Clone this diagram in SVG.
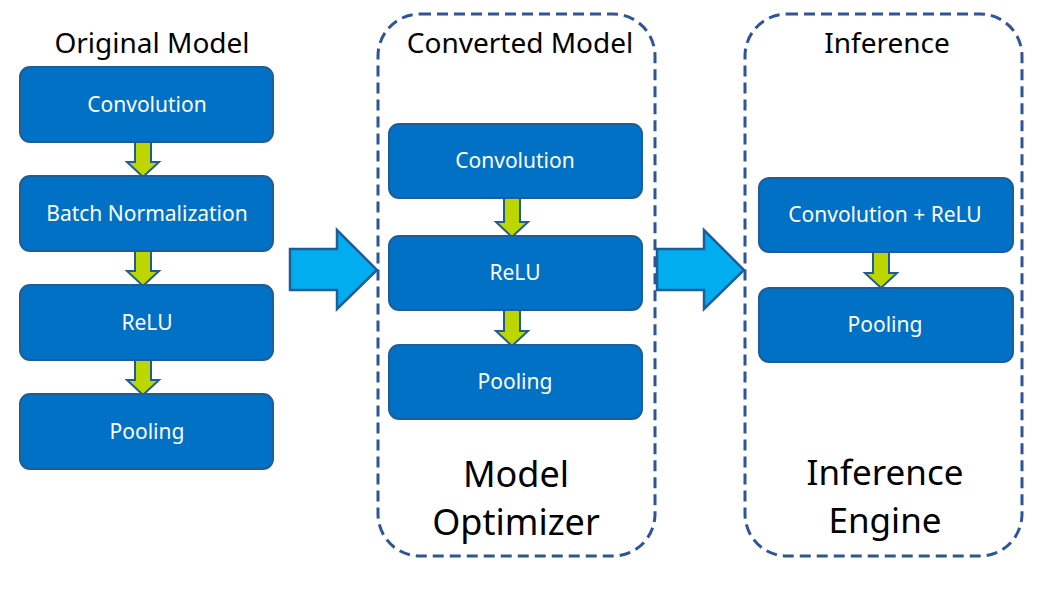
<svg xmlns="http://www.w3.org/2000/svg" width="1050" height="614" viewBox="0 0 1050 614">
<style>
.box{fill:#0071C5;stroke:#1F5D99;stroke-width:2}
.bt{fill:#fff;font-family:"Noto Sans","Open Sans",sans-serif;font-size:21px;text-anchor:middle}
.title{fill:#000;font-family:"Noto Sans","Open Sans",sans-serif;font-size:28px;text-anchor:middle}
.big{fill:#000;font-family:"Noto Sans","Open Sans",sans-serif;font-size:35px;text-anchor:middle}
.dash{fill:none;stroke:#2F5597;stroke-width:3;stroke-dasharray:11 6}
.sa{fill:#BED600;stroke:#1F5D99;stroke-width:2;stroke-linejoin:miter}
.ba{fill:#00AEEF;stroke:#1F5D99;stroke-width:2.5;stroke-linejoin:miter}
</style>
<rect width="1050" height="614" fill="#fff"/>
<g id="optimizer-frame"><rect class="dash" x="378" y="14" width="277" height="542" rx="42"/></g>
<g id="engine-frame"><rect class="dash" x="745" y="14" width="277" height="542" rx="42"/></g>
<g id="titles">
<text class="title" x="152" y="53">Original Model</text>
<text class="title" x="520" y="53">Converted Model</text>
<text class="title" x="887" y="53">Inference</text>
<text class="big" x="516" y="487" style="font-size:36px">Model</text>
<text class="big" x="516" y="535" style="font-size:36px">Optimizer</text>
<text class="big" x="885" y="485">Inference</text>
<text class="big" x="885" y="533">Engine</text>
</g>
<g id="connectors">
<path class="sa" d="M135,142 H151 V162 H159 L143,177 L127,162 H135 Z"/>
<path class="sa" d="M135,251 H151 V271 H159 L143,286 L127,271 H135 Z"/>
<path class="sa" d="M135,360 H151 V380 H159 L143,395 L127,380 H135 Z"/>
<path class="sa" d="M504,198 H520 V222 H528 L512,237 L496,222 H504 Z"/>
<path class="sa" d="M504,310 H520 V331 H528 L512,346 L496,331 H504 Z"/>
<path class="sa" d="M873,252 H889 V273 H897 L881,288 L865,273 H873 Z"/>
<path class="ba" d="M290,249 H337 V230 L377,270 L337,309 V290 H290 Z"/>
<path class="ba" d="M657,249 H704 V230 L744,270 L704,309 V290 H657 Z"/>
</g>
<g id="orig-conv"><rect class="box" x="20" y="67" width="253" height="75" rx="10"/><text class="bt" x="147" y="112">Convolution</text></g>
<g id="orig-bn"><rect class="box" x="20" y="176" width="253" height="75" rx="10"/><text class="bt" x="147" y="221">Batch Normalization</text></g>
<g id="orig-relu"><rect class="box" x="20" y="285" width="253" height="75" rx="10"/><text class="bt" x="147" y="330">ReLU</text></g>
<g id="orig-pool"><rect class="box" x="20" y="394" width="253" height="75" rx="10"/><text class="bt" x="147" y="439">Pooling</text></g>
<g id="conv-conv"><rect class="box" x="389" y="124" width="253" height="74" rx="10"/><text class="bt" x="515" y="168">Convolution</text></g>
<g id="conv-relu"><rect class="box" x="389" y="236" width="253" height="74" rx="10"/><text class="bt" x="515" y="280">ReLU</text></g>
<g id="conv-pool"><rect class="box" x="389" y="345" width="253" height="74" rx="10"/><text class="bt" x="515" y="389">Pooling</text></g>
<g id="inf-convrelu"><rect class="box" x="759" y="178" width="254" height="74" rx="10"/><text class="bt" x="885" y="222">Convolution + ReLU</text></g>
<g id="inf-pool"><rect class="box" x="759" y="288" width="254" height="74" rx="10"/><text class="bt" x="885" y="332">Pooling</text></g>
</svg>
